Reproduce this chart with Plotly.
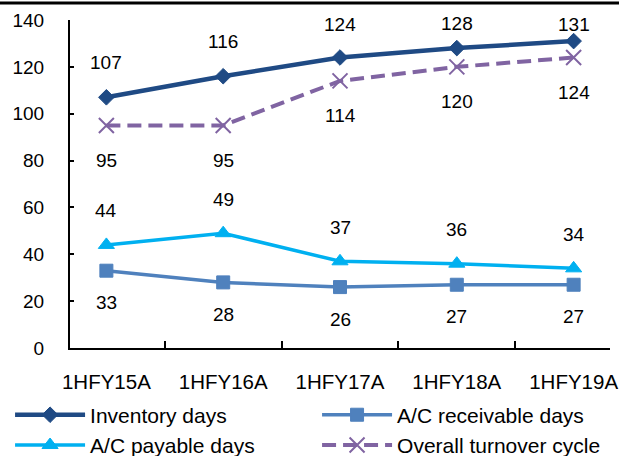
import plotly.graph_objects as go

# Half-year periods and working-capital day counts
periods = ["1HFY15A", "1HFY16A", "1HFY17A", "1HFY18A", "1HFY19A"]
inventory_days = [107, 116, 124, 128, 131]
receivable_days = [33, 28, 26, 27, 27]
payable_days = [44, 49, 37, 36, 34]
turnover_cycle = [95, 95, 114, 120, 124]

y_ticks = [0, 20, 40, 60, 80, 100, 120, 140]
Y_MAX = 140

FONT = "Liberation Sans, Arial, sans-serif"

# plot area geometry (px)
M_L, M_R, M_T, M_B = 70, 9, 20, 108
W, H = 619, 456
PLOT_H = H - M_T - M_B

series = [
    dict(name="Inventory days", y=inventory_days, color="#1F4A84", width=4.5,
         dash="solid", symbol="diamond", size=12, label_shift=35),
    dict(name="A/C receivable days", y=receivable_days, color="#4F81BD", width=3.5,
         dash="solid", symbol="square", size=13, label_shift=-32),
    dict(name="A/C payable days", y=payable_days, color="#00B0F0", width=3.5,
         dash="solid", symbol="triangle-up", size=14, label_shift=34),
    dict(name="Overall turnover cycle", y=turnover_cycle, color="#8064A2", width=4,
         dash="14px,7px", symbol="x-thin", size=15, label_shift=-35),
]


def label_shift(value, shift):
    # keep labels inside the plot area (centre no higher than 4px below top)
    if shift > 0:
        room = PLOT_H * (1 - value / Y_MAX) - 4
        return min(shift, room)
    return shift


fig = go.Figure()
annotations = []
for s in series:
    fig.add_trace(go.Scatter(
        x=periods, y=s["y"], name=s["name"], mode="lines+markers",
        line=dict(color=s["color"], width=s["width"], dash=s["dash"]),
        marker=dict(symbol=s["symbol"], size=s["size"], color=s["color"],
                    line=dict(color=s["color"], width=2 if s["symbol"] == "x-thin" else 1)),
    ))
    for x, v in zip(periods, s["y"]):
        annotations.append(dict(
            x=x, y=v, xref="x", yref="y", text=str(v), showarrow=False,
            yshift=label_shift(v, s["label_shift"]),
            font=dict(family=FONT, size=19, color="#000"),
        ))

fig.update_layout(
    width=W, height=H,
    margin=dict(l=M_L, r=M_R, t=M_T, b=M_B, autoexpand=False),
    paper_bgcolor="white", plot_bgcolor="white",
    font=dict(family=FONT, size=19, color="#000"),
    annotations=annotations,
    showlegend=True,
    legend=dict(
        orientation="h", x=-0.111, xanchor="left", y=-0.142, yanchor="top",
        entrywidth=222, itemwidth=70, borderwidth=0,
        font=dict(family=FONT, size=21, color="#000"),
        traceorder="normal", bgcolor="rgba(0,0,0,0)",
    ),
    shapes=[dict(type="line", xref="paper", yref="paper", x0=-0.2, x1=1.1,
                 y0=1 + 17 / PLOT_H, y1=1 + 17 / PLOT_H,
                 line=dict(color="#000", width=3))],
)

fig.update_xaxes(
    type="category", showline=True, linecolor="#000", linewidth=2,
    ticks="inside", ticklen=7, tickcolor="#000", tickwidth=2,
    tickson="boundaries", showgrid=False, zeroline=False,
    ticklabelstandoff=14, tickfont=dict(family=FONT, size=20.5),
)
fig.update_yaxes(
    range=[0, Y_MAX], tickvals=y_ticks, showline=True, linecolor="#000",
    linewidth=2, ticks="inside", ticklen=4, tickcolor="#000", tickwidth=2,
    showgrid=False, zeroline=False, ticklabelstandoff=20,
    tickfont=dict(family=FONT, size=19),
)

fig.write_html("out.html")
